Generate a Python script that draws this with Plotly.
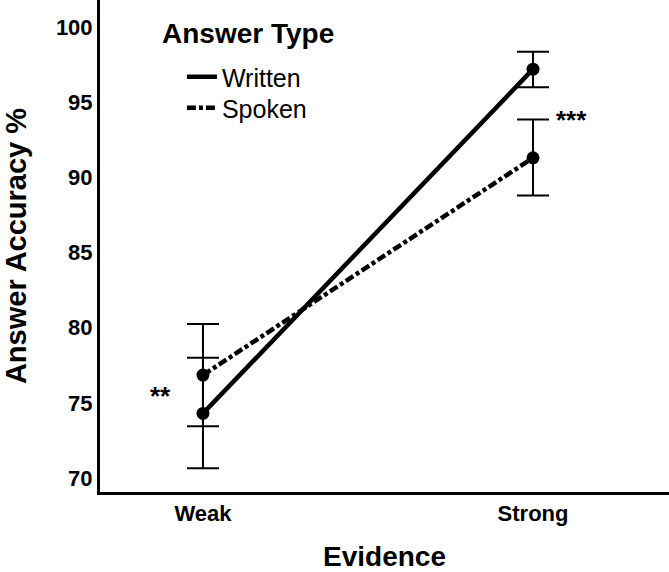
import plotly.graph_objects as go

categories = ["Weak", "Strong"]
written_mean = [74.3, 97.2]
written_err_plus = [3.7, 1.15]
written_err_minus = [3.65, 1.2]
spoken_mean = [76.85, 91.3]
spoken_err_plus = [3.4, 2.55]
spoken_err_minus = [3.4, 2.5]
sig_labels = ["**", "***"]
sig_y = [75.7, 94.1]
y_ticks = [70, 75, 80, 85, 90, 95, 100]

x_idx = [0, 1]
FONT = "Arial, Liberation Sans"

fig = go.Figure()
# lines (legend entries)
fig.add_trace(go.Scatter(
    x=x_idx, y=written_mean, name="Written", mode="lines",
    line=dict(color="black", width=4.5), legend="legend",
))
fig.add_trace(go.Scatter(
    x=x_idx, y=spoken_mean, name="Spoken", mode="lines",
    line=dict(color="black", width=4.5, dash="9px,3px,4px,3px"), legend="legend2",
))
# markers with error bars
fig.add_trace(go.Scatter(
    x=x_idx, y=written_mean, name="Written", mode="markers", showlegend=False,
    marker=dict(color="black", size=13),
    error_y=dict(type="data", symmetric=False, array=written_err_plus,
                 arrayminus=written_err_minus, color="black", thickness=2, width=16),
))
fig.add_trace(go.Scatter(
    x=x_idx, y=spoken_mean, name="Spoken", mode="markers", showlegend=False,
    marker=dict(color="black", size=13),
    error_y=dict(type="data", symmetric=False, array=spoken_err_plus,
                 arrayminus=spoken_err_minus, color="black", thickness=2, width=16),
))

fig.add_annotation(x=-0.13, y=sig_y[0], text=f"<b>{sig_labels[0]}</b>", showarrow=False,
                   yshift=-4, font=dict(family=FONT, size=26, color="black"))
fig.add_annotation(x=1.118, y=sig_y[1], text=f"<b>{sig_labels[1]}</b>", showarrow=False,
                   yshift=-4, font=dict(family=FONT, size=26, color="black"))
# legend heading
fig.add_annotation(xref="paper", yref="paper", x=0.1055, y=1 - 34 / 492,
                   xanchor="left", yanchor="middle", text="<b>Answer Type</b>",
                   showarrow=False, font=dict(family=FONT, size=28, color="black"))

leg_common = dict(font=dict(size=25), xanchor="left", yanchor="middle",
                  bgcolor="rgba(0,0,0,0)", itemwidth=30)
fig.update_layout(
    width=669, height=572,
    margin=dict(l=100, r=0, t=0, b=80),
    plot_bgcolor="white", paper_bgcolor="white",
    font=dict(family=FONT, color="black"),
    legend=dict(x=0.144, y=1 - 77 / 492, **leg_common),
    legend2=dict(x=0.144, y=1 - 108 / 492, **leg_common),
    xaxis=dict(
        range=[-0.312, 1.412], tickvals=x_idx, ticktext=[f"<b>{c}</b>" for c in categories],
        tickfont=dict(size=22), showgrid=False, zeroline=False,
        showline=True, linecolor="black", linewidth=3, ticks="",
        title=dict(text="<b>Evidence</b>", font=dict(size=28), standoff=21),
    ),
    yaxis=dict(
        range=[69.07, 101.8], tickvals=y_ticks, ticktext=[f"<b>{v}</b>" for v in y_ticks],
        tickfont=dict(size=22), showgrid=False, zeroline=False,
        showline=True, linecolor="black", linewidth=3, ticks="",
        title=dict(text="<b>Answer Accuracy %</b>", font=dict(size=29), standoff=24),
    ),
)

fig.write_html("out.html")
